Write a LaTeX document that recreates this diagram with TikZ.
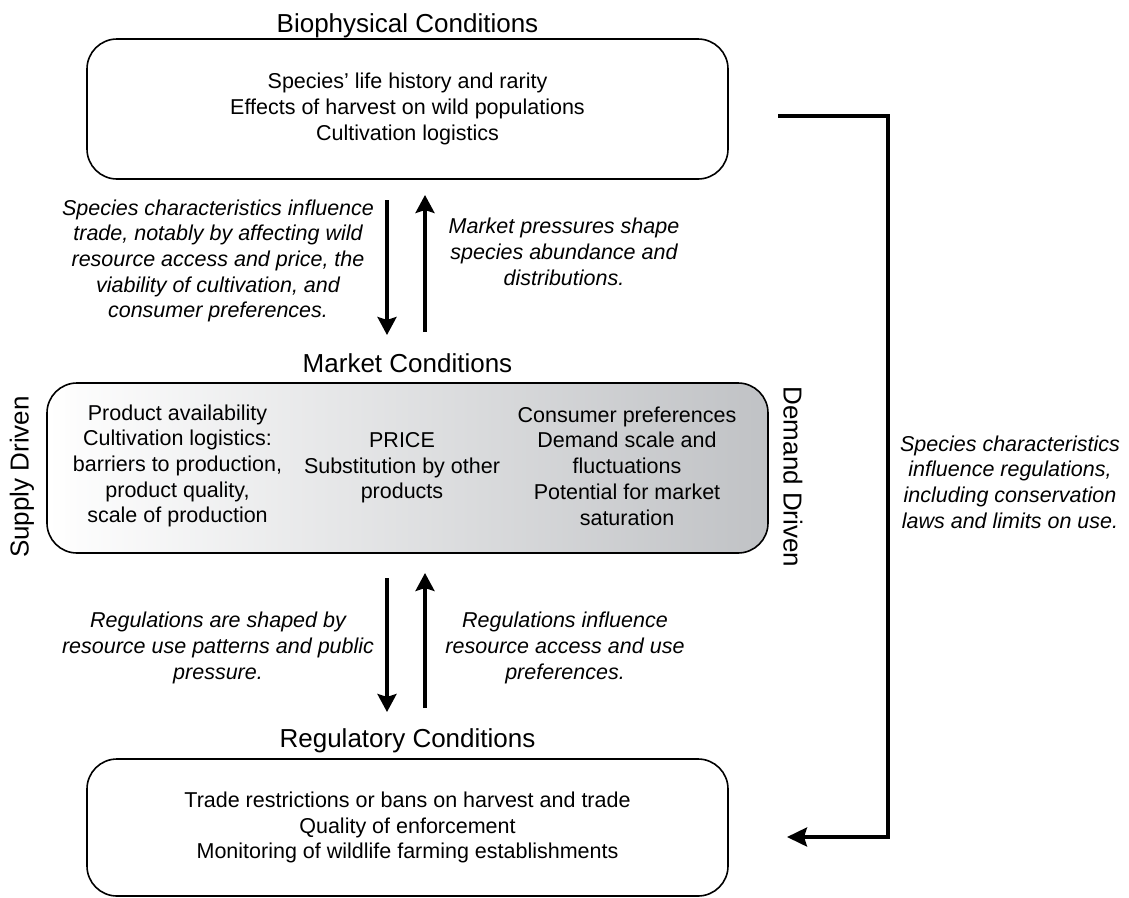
\documentclass[tikz,border=0pt]{standalone}
\usepackage{fontspec}
\setmainfont{Liberation Sans}
\usepackage{xcolor}
\usepackage{tikz}
\usetikzlibrary{arrows.meta}
\definecolor{MktGray}{RGB}{192,194,197}
\newcommand{\BodyFont}{\fontsize{21.5}{25.7}\selectfont}
\newcommand{\TitleFont}{\fontsize{26}{31}\selectfont}
\newcommand{\NoteFont}{\fontsize{21.5}{25.7}\selectfont\itshape}
\tikzset{
  condbox/.style={draw,line width=1.6pt,rounded corners=30pt,align=center,font=\BodyFont},
  condtitle/.style={anchor=base,font=\TitleFont,inner sep=0pt},
  coltext/.style={align=center,font=\BodyFont,inner sep=0pt},
  note/.style={align=center,font=\NoteFont,inner sep=0pt},
  flow/.style={line width=3.3pt,-{Stealth[length=18pt,width=19pt,inset=3pt]}},
  link/.style={line width=3.5pt,-{Stealth[length=20pt,width=19pt,inset=3pt]}}
}

\begin{document}
\begin{tikzpicture}[x=1pt,y=-1pt]
\useasboundingbox (0,0) rectangle (1129,897);
% the three conditions
\node[condtitle] (bioT) at (407.5,32) {Biophysical Conditions};
\node[condbox,minimum width=641pt,minimum height=140pt] (bio) at (407.5,109)
  {Species' life history and rarity\\Effects of harvest on wild populations\\Cultivation logistics};
\node[condtitle] (mktT) at (407.5,372.7) {Market Conditions};
\node[condbox,minimum width=721pt,minimum height=170pt,left color=white,right color=MktGray] (mkt) at (407.5,468) {};
\node[condtitle] (regT) at (407.5,747) {Regulatory Conditions};
\node[condbox,minimum width=641pt,minimum height=137pt] (reg) at (407.5,827.5)
  {Trade restrictions or bans on harvest and trade\\Quality of enforcement\\Monitoring of wildlife farming establishments};

% market columns
\node[coltext] (supplyCol) at (177.5,466) {Product availability\\Cultivation logistics:\\barriers to production,\\product quality,\\scale of production};
\node[coltext] (priceCol) at (402,468) {PRICE\\Substitution by other\\products};
\node[coltext] (demandCol) at (627,466) {Consumer preferences\\Demand scale and\\fluctuations\\Potential for market\\saturation};
\node[font=\TitleFont,rotate=90,inner sep=0pt] (supply) at (22,477) {Supply Driven};
\node[font=\TitleFont,rotate=-90,inner sep=0pt] (demand) at (793,477) {Demand Driven};

% notes
\node[note] (bioDnNote) at (218,261) {Species characteristics influence\\trade, notably by affecting wild\\resource access and price, the\\viability of cultivation, and\\consumer preferences.};
\node[note] (mktUpNote) at (564,252) {Market pressures shape\\species abundance and\\distributions.};
\node[note] (mktDnNote) at (218,648) {Regulations are shaped by\\resource use patterns and public\\pressure.};
\node[note] (regUpNote) at (565,648) {Regulations influence\\resource access and use\\preferences.};
\node[note] (linkNote) at (1010,482) {Species characteristics\\influence regulations,\\including conservation\\laws and limits on use.};

% arrows
\coordinate (bioDnS) at (387,200);
\coordinate (bioDnE) at (387,335);
\coordinate (mktUpS) at (425,332);
\coordinate (mktUpE) at (425,195);
\coordinate (mktDnS) at (387,578);
\coordinate (mktDnE) at (387,712);
\coordinate (regUpS) at (425,708);
\coordinate (regUpE) at (425,573);
\draw[flow] (bioDnS) -- (bioDnE);
\draw[flow] (mktUpS) -- (mktUpE);
\draw[flow] (mktDnS) -- (mktDnE);
\draw[flow] (regUpS) -- (regUpE);

% biophysical to regulatory
\coordinate (linkS) at (778,116);
\coordinate (linkC) at (888,116);
\coordinate (linkE) at (787,837);
\draw[link] (linkS) -- (linkC) |- (linkE);
\end{tikzpicture}
\end{document}
